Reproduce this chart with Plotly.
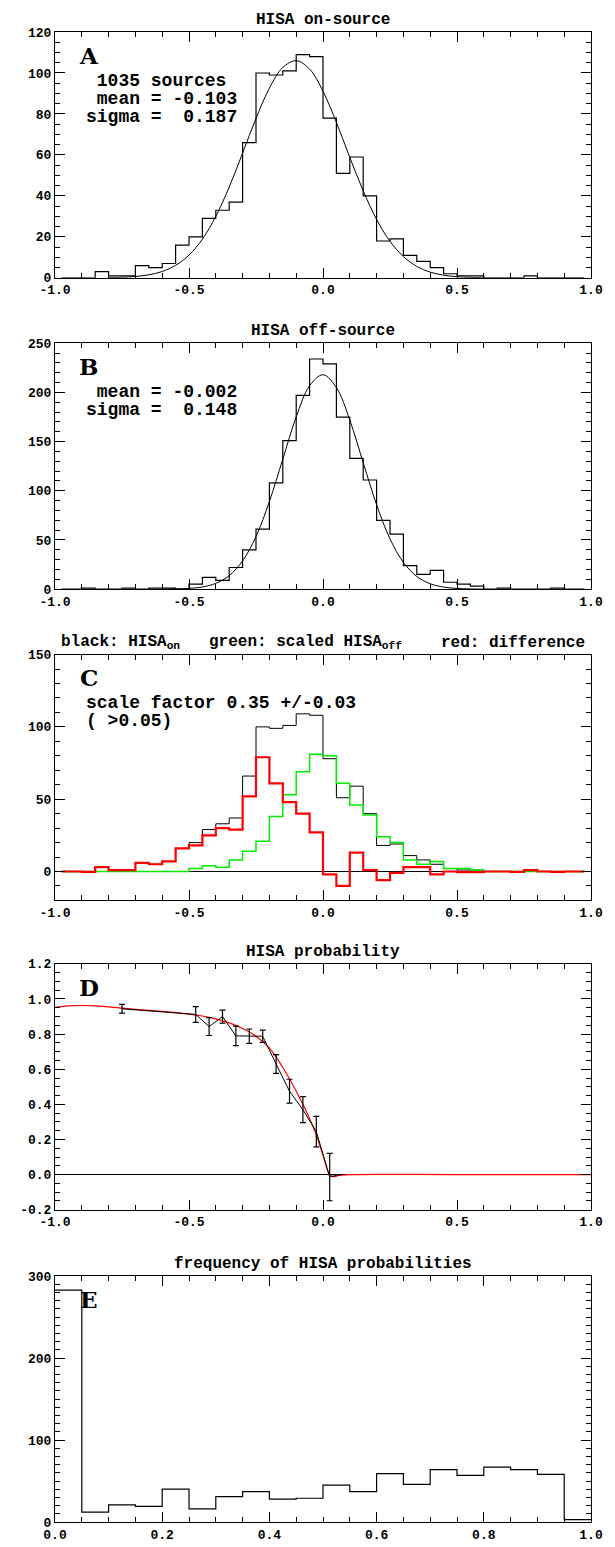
import plotly.graph_objects as go

# ---------------- data ----------------
# 40 histogram bins of width 0.05 from -1.0 to 1.0 (bin centres)
hist_centers = [round(-0.975 + 0.05 * i, 3) for i in range(40)]

on_counts = [0, 0, 0, 3, 1, 1, 6, 5, 7, 16,
             20, 29, 33, 37, 66, 100, 99, 101, 109, 108,
             78, 51, 59, 40, 18, 19, 11, 8, 5, 2,
             1, 1, 0, 0, 0, 1, 0, 0, 0, 0]

off_counts = [0, 0, 1, 0, 0, 1, 0, 1, 1, 0,
              5, 12, 9, 22, 40, 61, 108, 151, 197, 234,
              229, 175, 133, 111, 70, 56, 24, 15, 19, 7,
              5, 3, 0, 1, 0, 0, 0, 1, 0, 0]

scaled_off = [0, 0, 0, 0, 0, 0, 0, 0, 0, 0,
              2, 4, 3, 8, 14, 21, 38, 53, 69, 81,
              80, 61, 46, 39, 24, 20, 8, 5, 7, 2,
              2, 1, 0, 0, 0, 0, 0, 0, 0, 0]

difference = [0, 0, -0.3, 3, 1, 1, 6, 5, 7, 16,
              18, 25, 30, 29, 52, 79, 61, 48, 40, 27,
              -2, -10, 13, 1, -6, -1, 3, 3, -2, 0,
              -0.5, -0.5, 0, 0, -0.3, 1, 0, -0.3, 0, 0]

# Gaussian fit curves
fit_a_x = [round(-0.8 + 0.05 * i, 2) for i in range(29)]
fit_a_y = [0.1, 0.25, 0.65, 1.5, 3.1, 6.1, 11.1, 18.9, 30.0, 44.3,
           60.9, 77.8, 92.6, 102.7, 106.0, 101.9, 91.1, 75.9, 58.8, 42.5,
           28.5, 17.8, 10.4, 5.6, 2.8, 1.3, 0.55, 0.2, 0.1]

fit_b_x = [round(-0.6 + 0.05 * i, 2) for i in range(25)]
fit_b_y = [0.05, 0.2, 0.76, 2.2, 5.9, 13.7, 28.7, 53.5, 89.1, 132.2,
           175.1, 206.8, 218.0, 205.0, 171.9, 128.6, 85.9, 51.1, 27.2, 12.9,
           5.5, 2.1, 0.7, 0.2, 0.05]

# HISA probability points with errors
prob_x = [-0.75, -0.475, -0.425, -0.375, -0.325, -0.275, -0.225, -0.175,
          -0.125, -0.075, -0.025, 0.025, 0.06]
prob_y = [0.944, 0.912, 0.843, 0.900, 0.790, 0.788, 0.788, 0.630,
          0.475, 0.370, 0.245, -0.014, 0.0]
prob_err = [0.025, 0.045, 0.051, 0.037, 0.055, 0.041, 0.035, 0.053,
            0.068, 0.074, 0.087, 0.135, 0]

prob_fit_x = [-1.0, -0.95, -0.9, -0.85, -0.8, -0.75, -0.7, -0.65, -0.6, -0.55,
              -0.5, -0.45, -0.4, -0.35, -0.3, -0.25, -0.2, -0.15, -0.1, -0.05,
              -0.025, 0.0, 0.025, 0.04, 0.06, 0.1, 0.5, 1.0]
prob_fit_y = [0.953, 0.961, 0.963, 0.961, 0.955, 0.948, 0.941, 0.935, 0.929, 0.922,
              0.914, 0.903, 0.887, 0.864, 0.832, 0.788, 0.720, 0.610, 0.475, 0.320,
              0.225, 0.110, 0.0, -0.012, -0.004, 0.0, 0.0, 0.0]

# frequency of HISA probabilities: 20 bins of 0.05 from 0 to 1
freq_edges = [round(0.05 * i, 2) for i in range(21)]
freq_counts = [283, 12, 21, 19, 40, 16, 31, 37, 28, 29,
               45, 37, 59, 46, 64, 57, 67, 64, 58, 3]

x_ticks_pm = [-1.0, -0.5, 0.0, 0.5, 1.0]
x_ticktext_pm = ["-1.0", "-0.5", "0.0", "0.5", "1.0"]
x_ticks_e = [0.0, 0.2, 0.4, 0.6, 0.8, 1.0]
x_ticktext_e = ["0.0", "0.2", "0.4", "0.6", "0.8", "1.0"]
ya_ticks = [0, 20, 40, 60, 80, 100, 120]
yb_ticks = [0, 50, 100, 150, 200, 250]
yc_ticks = [0, 50, 100, 150]
yd_ticks = [-0.2, 0.0, 0.2, 0.4, 0.6, 0.8, 1.0, 1.2]
yd_ticktext = ["-0.2", "0.0", "0.2", "0.4", "0.6", "0.8", "1.0", "1.2"]
ye_ticks = [0, 100, 200, 300]

# ---------------- layout geometry ----------------
W, H = 615, 1547
L, R = 45, 583
TOP, BOT = 24, 1527
panel_tops = [24, 338, 652, 964, 1279]
PH = 248
span = BOT - TOP

MONO = "Liberation Mono"
tickfont = dict(family=MONO, size=13, color="black", weight="bold")


def ydom(top):
    return [(BOT - (top + PH)) / span, (BOT - top) / span]


def xax(anchor, rng, tv, tt, minor_dtick, tick0):
    return dict(anchor=anchor, domain=[0, 1], range=rng, showline=True,
                linecolor="black", linewidth=1, mirror="allticks",
                ticks="inside", ticklen=10, tickwidth=1, tickcolor="black",
                tickmode="array", tickvals=tv, ticktext=tt, showgrid=False,
                zeroline=False, tickfont=tickfont,
                minor=dict(ticks="inside", ticklen=5, tickwidth=1,
                           tickcolor="black", tickmode="linear",
                           tick0=tick0, dtick=minor_dtick, showgrid=False))


def yax(anchor, top, rng, tv, tt, minor_dtick, tick0, zl=False):
    return dict(anchor=anchor, domain=ydom(top), range=rng, showline=True,
                linecolor="black", linewidth=1, mirror="allticks",
                ticks="inside", ticklen=10, tickwidth=1, tickcolor="black",
                tickmode="array", tickvals=tv, ticktext=tt, showgrid=False,
                zeroline=zl, zerolinecolor="black", zerolinewidth=1,
                tickfont=tickfont,
                minor=dict(ticks="inside", ticklen=5, tickwidth=1,
                           tickcolor="black", tickmode="linear",
                           tick0=tick0, dtick=minor_dtick, showgrid=False))


fig = go.Figure()

# A
fig.add_trace(go.Scatter(x=hist_centers, y=on_counts, mode="lines",
                         line=dict(shape="hvh", color="black", width=1.2),
                         xaxis="x", yaxis="y"))
fig.add_trace(go.Scatter(x=fit_a_x, y=fit_a_y, mode="lines",
                         line=dict(shape="spline", color="black", width=1),
                         xaxis="x", yaxis="y"))
# B
fig.add_trace(go.Scatter(x=hist_centers, y=off_counts, mode="lines",
                         line=dict(shape="hvh", color="black", width=1.2),
                         xaxis="x2", yaxis="y2"))
fig.add_trace(go.Scatter(x=fit_b_x, y=fit_b_y, mode="lines",
                         line=dict(shape="spline", color="black", width=1),
                         xaxis="x2", yaxis="y2"))
# C
fig.add_trace(go.Scatter(x=hist_centers, y=on_counts, mode="lines",
                         line=dict(shape="hvh", color="black", width=1),
                         xaxis="x3", yaxis="y3"))
fig.add_trace(go.Scatter(x=hist_centers, y=scaled_off, mode="lines",
                         line=dict(shape="hvh", color="#00ee00", width=1.5),
                         xaxis="x3", yaxis="y3"))
fig.add_trace(go.Scatter(x=hist_centers, y=difference, mode="lines",
                         line=dict(shape="hvh", color="#ff0000", width=2.2),
                         xaxis="x3", yaxis="y3"))
# D
fig.add_trace(go.Scatter(x=prob_fit_x, y=prob_fit_y, mode="lines",
                         line=dict(shape="spline", color="#ff0000", width=1.2),
                         xaxis="x4", yaxis="y4"))
fig.add_trace(go.Scatter(x=prob_x, y=prob_y, mode="lines",
                         line=dict(color="black", width=1),
                         error_y=dict(type="data", array=prob_err, visible=True,
                                      color="black", thickness=1.2, width=3),
                         xaxis="x4", yaxis="y4"))
# E
fig.add_trace(go.Scatter(x=freq_edges, y=freq_counts + [freq_counts[-1]], mode="lines",
                         line=dict(shape="hv", color="black", width=1.2),
                         xaxis="x5", yaxis="y5"))

num = lambda v: [str(t) for t in v]

fig.update_layout(
    width=W, height=H, showlegend=False,
    margin=dict(l=L, r=W - R, t=TOP, b=H - BOT, pad=0),
    paper_bgcolor="white", plot_bgcolor="white",
    xaxis=xax("y", [-1, 1], x_ticks_pm, x_ticktext_pm, 0.1, -1.0),
    xaxis2=xax("y2", [-1, 1], x_ticks_pm, x_ticktext_pm, 0.1, -1.0),
    xaxis3=xax("y3", [-1, 1], x_ticks_pm, x_ticktext_pm, 0.1, -1.0),
    xaxis4=xax("y4", [-1, 1], x_ticks_pm, x_ticktext_pm, 0.1, -1.0),
    xaxis5=xax("y5", [0, 1], x_ticks_e, x_ticktext_e, 0.05, 0.0),
    yaxis=yax("x", panel_tops[0], [0, 120], ya_ticks, num(ya_ticks), 5, 0),
    yaxis2=yax("x2", panel_tops[1], [0, 250], yb_ticks, num(yb_ticks), 10, 0),
    yaxis3=yax("x3", panel_tops[2], [-20, 150], yc_ticks, num(yc_ticks), 10, 0, zl=True),
    yaxis4=yax("x4", panel_tops[3], [-0.2, 1.2], yd_ticks, yd_ticktext, 0.05, 0, zl=True),
    yaxis5=yax("x5", panel_tops[4], [0, 300], ye_ticks, num(ye_ticks), 10, 0),
)

NB = "\u00a0"
titlefont = dict(family=MONO, size=16, color="black", weight="bold")
textfont = dict(family=MONO, size=18, color="black", weight="bold")
letterfont = dict(family="DejaVu Serif", size=23, color="black", weight="bold")

ann = []
titles = ["HISA on-source", "HISA off-source", None, "HISA probability",
          "frequency of HISA probabilities"]
for i, t in enumerate(titles):
    yr = "y domain" if i == 0 else f"y{i + 1} domain"
    xr = "x domain" if i == 0 else f"x{i + 1} domain"
    if t:
        ann.append(dict(text=t.replace(" ", NB), xref=xr, yref=yr, x=0.5, y=1 + 12 / PH,
                        xanchor="center", yanchor="middle", showarrow=False, font=titlefont))
    ann.append(dict(text="ABCDE"[i], xref=xr, yref=yr, x=34 / 538, y=1 - 23.5 / PH,
                    xanchor="center", yanchor="middle", showarrow=False, font=letterfont))

# panel C title in three parts
for txt, xpos, xa in [("black:" + NB + "HISA<sub>on</sub>", 4 / 538, "left"),
                      ("green:" + NB + "scaled" + NB + "HISA<sub>off</sub>", 153 / 538, "left"),
                      ("red:" + NB + "difference", 534 / 538, "right")]:
    ann.append(dict(text=txt, xref="x3 domain", yref="y3 domain", x=xpos, y=1 + 12 / PH,
                    xanchor=xa, yanchor="middle", showarrow=False, font=titlefont))

stat_lines = {
    "": [" 1035 sources", " mean = -0.103", "sigma =  0.187"],
    "2": [" mean = -0.002", "sigma =  0.148"],
    "3": ["scale factor 0.35 +/-0.03", "( >0.05)"],
}
for key, lines in stat_lines.items():
    for j, ln in enumerate(lines):
        ann.append(dict(text=ln.replace(" ", NB), xref=f"x{key} domain", yref=f"y{key} domain",
                        x=29.5 / 538, y=1 - (49 + 18.5 * j) / PH,
                        xanchor="left", yanchor="middle", showarrow=False, font=textfont))

fig.update_layout(annotations=ann)

fig.write_html("out.html", config={"displayModeBar": False})
